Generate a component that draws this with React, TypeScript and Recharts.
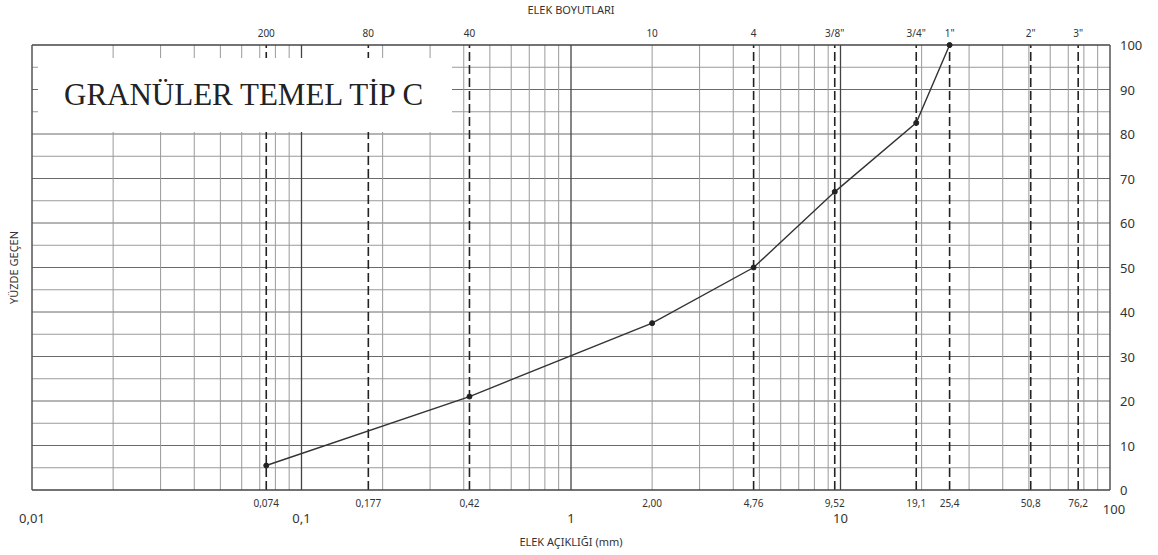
import React from 'react';
import { LineChart, Line, XAxis, YAxis, ReferenceLine } from 'recharts';

// Sieve openings (mm) and percent passing
const sieveSizes = [0.074, 0.42, 2.0, 4.76, 9.52, 19.1, 25.4];
const percentPassing = [5.5, 21, 37.5, 50, 67, 82.5, 100];

// Top axis: sieve designations
const topTickValues = [0.074, 0.177, 0.42, 2.0, 4.76, 9.52, 19.1, 25.4, 50.8, 76.2];
const topTickLabels = ['200', '80', '40', '10', '4', '3/8"', '3/4"', '1"', '2"', '3"'];

// Bottom axis: sieve openings and decades
const bottomSieveValues = [0.074, 0.177, 0.42, 2.0, 4.76, 9.52, 19.1, 25.4, 50.8, 76.2];
const bottomSieveLabels = ['0,074', '0,177', '0,42', '2,00', '4,76', '9,52', '19,1', '25,4', '50,8', '76,2'];
const decadeValues = [0.01, 0.1, 1, 10, 100];
const decadeLabels = ['0,01', '0,1', '1', '10', '100'];

// Dashed sieve lines
const dashedSieveLines = [0.074, 0.177, 0.42, 4.76, 9.52, 19.1, 25.4, 50.8, 76.2];

// Log grid (minor lines)
const minorGrid = [
  0.02, 0.03, 0.04, 0.05, 0.06, 0.07, 0.08, 0.09,
  0.2, 0.3, 0.4, 0.5, 0.6, 0.7, 0.8, 0.9,
  2, 3, 4, 5, 6, 7, 8, 9,
  20, 30, 40, 50, 60, 70, 80, 90,
];
const majorGrid = [0.1, 1, 10];

// Y axis
const yTicks = [0, 10, 20, 30, 40, 50, 60, 70, 80, 90, 100];
const yGridLines = [5, 10, 15, 20, 25, 30, 35, 40, 45, 50, 55, 60, 65, 70, 75, 80, 85, 90, 95];

const data = sieveSizes.map((s, i) => ({ size: s, pass: percentPassing[i] }));

const FONT = "'Noto Sans', 'Open Sans', sans-serif";

const TopTick = (props: any) => {
  const { x, y, payload } = props;
  const idx = topTickValues.indexOf(payload.value);
  const label = idx >= 0 ? topTickLabels[idx] : '';
  return (
    <text x={x} y={y} dy={-8} textAnchor="middle" fontSize={10} fill="#333" fontFamily={FONT}>
      {label}
    </text>
  );
};

const BottomTick = (props: any) => {
  const { x, y, payload } = props;
  const v = payload.value;
  const di = decadeValues.indexOf(v);
  if (di >= 0) {
    const isLast = v === 100;
    return (
      <text x={isLast ? x + 4 : x} y={y} dy={isLast ? 24 : 33} textAnchor="middle" fontSize={13} fill="#333" fontFamily={FONT}>
        {decadeLabels[di]}
      </text>
    );
  }
  const si = bottomSieveValues.indexOf(v);
  return (
    <text x={x} y={y} dy={17} textAnchor="middle" fontSize={10} fill="#333" fontFamily={FONT}>
      {si >= 0 ? bottomSieveLabels[si] : ''}
    </text>
  );
};

const RightTick = (props: any) => {
  const { x, y, payload } = props;
  return (
    <text x={x} y={y} dx={10} dy={5} textAnchor="start" fontSize={13} fill="#333" fontFamily={FONT}>
      {payload.value}
    </text>
  );
};

export default function App() {
  return (
    <div style={{ position: 'absolute', left: 0, top: 0, width: 1158, height: 555, background: '#fff' }}>
      <LineChart
        width={1158}
        height={555}
        data={data}
        margin={{ top: 0, right: 0, bottom: 0, left: 0 }}
      >
        <XAxis
          xAxisId="top"
          orientation="top"
          type="number"
          dataKey="size"
          scale="log"
          domain={[0.01, 100]}
          allowDataOverflow
          ticks={topTickValues}
          tick={<TopTick />}
          tickLine={false}
          tickSize={0}
          tickMargin={0}
          height={45}
          axisLine={{ stroke: '#444', strokeWidth: 1.5 }}
          interval={0}
          label={{ value: 'ELEK BOYUTLARI', position: 'insideTop', offset: 6, fontSize: 11, fill: '#333', fontFamily: FONT }}
        />
        <XAxis
          xAxisId="bottom"
          orientation="bottom"
          type="number"
          dataKey="size"
          scale="log"
          domain={[0.01, 100]}
          allowDataOverflow
          ticks={[...decadeValues, ...bottomSieveValues]}
          tick={<BottomTick />}
          tickLine={false}
          tickSize={0}
          tickMargin={0}
          height={65}
          axisLine={{ stroke: '#444', strokeWidth: 1.5 }}
          interval={0}
          label={{ value: 'ELEK AÇIKLIĞI (mm)', position: 'insideBottom', offset: 9, fontSize: 11, fill: '#333', fontFamily: FONT }}
        />
        <YAxis
          yAxisId="left"
          orientation="left"
          type="number"
          domain={[0, 100]}
          ticks={yTicks}
          tick={false}
          tickLine={false}
          width={32}
          axisLine={{ stroke: '#555', strokeWidth: 1.5 }}
          label={{ value: 'YÜZDE GEÇEN', angle: -90, position: 'insideLeft', offset: 14, fontSize: 11, fill: '#333', fontFamily: FONT, style: { textAnchor: 'middle' } }}
        />
        <YAxis
          yAxisId="right"
          orientation="right"
          type="number"
          domain={[0, 100]}
          ticks={yTicks}
          tick={<RightTick />}
          tickLine={false}
          tickSize={0}
          tickMargin={0}
          width={48}
          axisLine={{ stroke: '#555', strokeWidth: 1.5 }}
          interval={0}
        />

        {yGridLines.map((v) => (
          <ReferenceLine
            key={'h' + v}
            xAxisId="bottom"
            yAxisId="right"
            y={v}
            stroke={v % 10 === 0 ? '#6a6a6a' : '#9a9a9a'}
            strokeWidth={1}
          />
        ))}
        {minorGrid.map((v) => (
          <ReferenceLine
            key={'m' + v}
            xAxisId="bottom"
            yAxisId="right"
            x={v}
            stroke="#9a9a9a"
            strokeWidth={1}
          />
        ))}
        {majorGrid.map((v) => (
          <ReferenceLine
            key={'M' + v}
            xAxisId="bottom"
            yAxisId="right"
            x={v}
            stroke="#444"
            strokeWidth={1.3}
          />
        ))}
        {dashedSieveLines.map((v) => (
          <ReferenceLine
            key={'d' + v}
            xAxisId="bottom"
            yAxisId="right"
            x={v}
            stroke="#222"
            strokeWidth={1.6}
            strokeDasharray="9 4"
          />
        ))}

        <Line
          xAxisId="bottom"
          yAxisId="right"
          type="linear"
          dataKey="pass"
          stroke="#333"
          strokeWidth={1.4}
          dot={{ r: 2.5, fill: '#222', stroke: '#222', strokeWidth: 1 }}
          isAnimationActive={false}
        />
      </LineChart>
      <div
        style={{
          position: 'absolute',
          left: 38,
          top: 58,
          width: 414,
          height: 74,
          background: '#fff',
          display: 'flex',
          alignItems: 'center',
          paddingLeft: 26,
          boxSizing: 'border-box',
          fontFamily: "'Liberation Serif', 'DejaVu Serif', serif",
          fontSize: 31,
          color: '#222',
          whiteSpace: 'nowrap',
        }}
      >
        GRANÜLER TEMEL TİP C
      </div>
    </div>
  );
}
